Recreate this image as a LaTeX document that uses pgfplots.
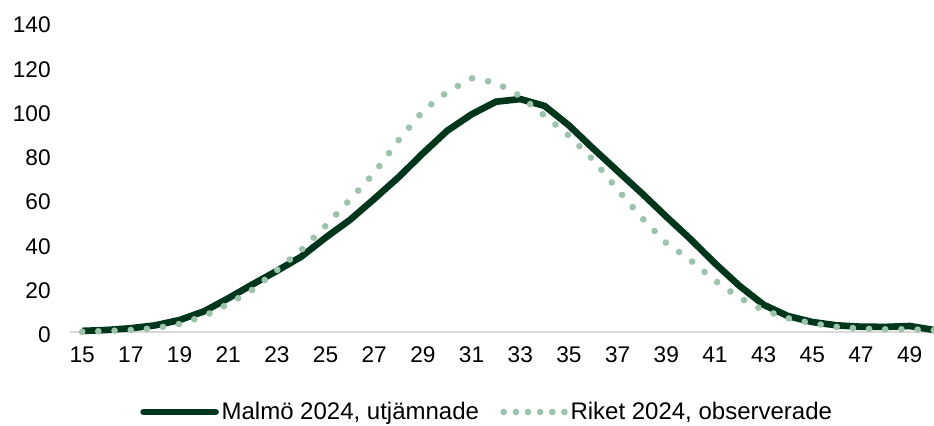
\documentclass[border=0pt]{standalone}
\usepackage{fontspec}
\setmainfont{Liberation Sans}
\usepackage{pgfplots}
\usepackage{pgfplotstable}
\pgfplotsset{compat=1.18}
\definecolor{dkgreen}{RGB}{0,54,28}
\definecolor{ltgreen}{RGB}{156,195,172}
\pgfplotsset{
  solidleg/.style={legend image code/.code={\draw[##1,line cap=round] (0pt,0pt) -- (54pt,0pt);}},
  dotleg/.style={legend image code/.code={\draw[##1,dash pattern=on 0pt off 9.1pt] (0pt,0pt) -- (45.6pt,0pt);}},
}
\pgfplotstableread{
age val
15 0.5
16 0.9
17 1.7
18 3.0
19 5.4
20 9.3
21 15.2
22 21.5
23 27.6
24 34.0
25 42.6
26 50.6
27 60.1
28 69.9
29 80.7
30 90.9
31 98.3
32 104.0
33 105.2
34 102.1
35 93.3
36 82.8
37 72.7
38 62.6
39 52.1
40 41.9
41 31.0
42 20.9
43 12.3
44 7.2
45 4.5
46 3.0
47 2.4
48 2.3
49 2.7
50 0.9
}\malmo
\pgfplotstableread{
age val
15 0.1
16 0.45
17 0.9
18 1.7
19 3.6
20 7.1
21 12.6
22 19.1
23 27.9
24 37.0
25 47.9
26 59.8
27 71.8
28 86.6
29 99.8
30 108.4
31 114.6
32 112.6
33 106.5
34 97.7
35 88.7
36 77.7
37 64.3
38 51.5
39 40.2
40 32.4
41 23.2
42 15.5
43 9.8
44 6.2
45 3.9
46 2.3
47 1.5
48 1.2
49 1.2
50 0.8
}\riket
\begin{document}
\begin{tikzpicture}
\useasboundingbox (-52.5pt,-69.75pt) rectangle (648pt,249pt);
\begin{axis}[
  at={(0,0)}, anchor=south west,
  scale only axis, width=648pt, height=232.5pt,
  xmin=14.5, xmax=50, ymin=0, ymax=140,
  xtick={15,17,...,49}, ytick={0,20,...,140},
  major tick length=0pt,
  axis x line*=bottom,
  x axis line style={draw=black!15, line width=1.1pt},
  y axis line style={draw=none},
  tick label style={font=\fontsize{17}{20}\selectfont},
  /pgf/number format/assume math mode=true,
  xticklabel style={yshift=-7.8pt},
  yticklabel style={xshift=-11pt, yshift=-2.25pt},
  clip=false,
  legend style={at={(0.4832,-0.258)}, anchor=center, draw=none,
    font=\fontsize{18}{21}\selectfont, legend columns=2,
    /tikz/every even column/.append style={column sep=14pt}},
]
\addplot[color=dkgreen, line width=5pt, line join=round, solidleg]
  table[x=age,y=val] {\malmo};
\addlegendentry{Malmö 2024, utjämnade}
\addplot[color=ltgreen, line width=5pt, line cap=round, dash pattern=on 0pt off 12.15pt, dotleg]
  table[x=age,y=val] {\riket};
\addlegendentry{Riket 2024, observerade}
\end{axis}
\end{tikzpicture}
\end{document}
